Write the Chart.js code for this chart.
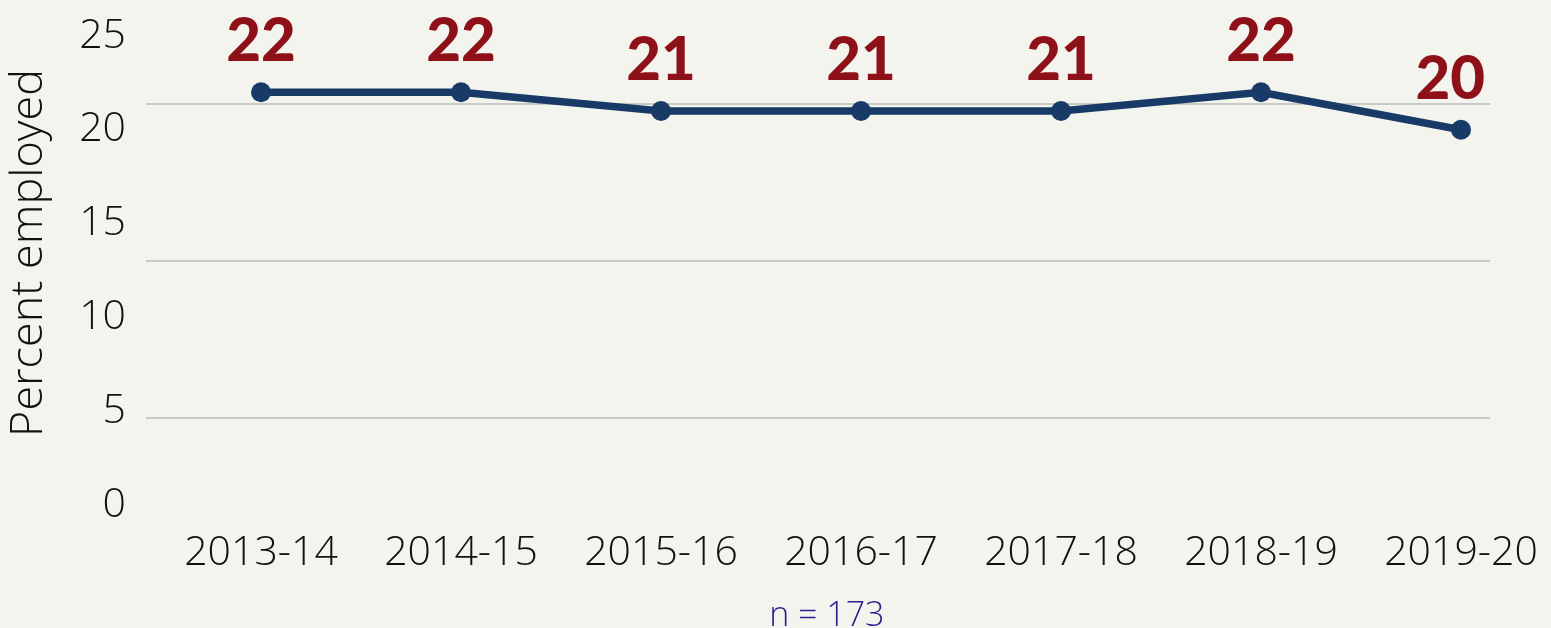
<!DOCTYPE html>
<html>
<head>
<meta charset="utf-8">
<script src="https://cdn.jsdelivr.net/npm/chart.js@4/dist/chart.umd.min.js"></script>
<style>
  html, body { margin: 0; padding: 0; background: #f4f4ef; }
  #wrap { width: 1551px; height: 628px; position: relative; }
</style>
</head>
<body>
<div id="wrap"><canvas id="c"></canvas></div>
<script>
const categories = ['2013-14', '2014-15', '2015-16', '2016-17', '2017-18', '2018-19', '2019-20'];
const values = [22, 22, 21, 21, 21, 22, 20];
const yTicks = [0, 5, 10, 15, 20, 25];
const gridValues = [4.65, 12.98, 21.37];
const yTitle = '   Percent employed';
const footnote = '  n = 173';

const LIGHT = "'Open Sans', sans-serif";

const valueLabels = {
  id: 'valueLabels',
  afterDatasetsDraw(chart) {
    const ctx = chart.ctx;
    const meta = chart.getDatasetMeta(0);
    const area = chart.chartArea;
    ctx.save();
    ctx.font = "900 60px Lato, sans-serif";
    ctx.fillStyle = '#8e1119';
    ctx.textAlign = 'center';
    ctx.textBaseline = 'alphabetic';
    meta.data.forEach((pt, i) => {
      const txt = String(values[i]);
      const half = ctx.measureText(txt).width / 2;
      const x = Math.min(pt.x, area.right - 5 - half);
      ctx.fillText(txt, x, pt.y - 31);
    });
    ctx.restore();
  }
};

new Chart(document.getElementById('c'), {
  type: 'line',
  data: {
    datasets: [{
      data: categories.map((c, i) => ({ x: i, y: values[i] })),
      borderColor: '#173a66',
      backgroundColor: '#173a66',
      borderWidth: 7.5,
      pointRadius: 10,
      pointHoverRadius: 10,
      pointBackgroundColor: '#173a66',
      pointBorderWidth: 0,
      tension: 0
    }]
  },
  options: {
    responsive: true,
    maintainAspectRatio: false,
    animation: false,
    events: [],
    layout: { padding: { top: 36, right: 61, left: 0, bottom: 0 } },
    plugins: { legend: { display: false }, tooltip: { enabled: false } },
    scales: {
      x: {
        type: 'linear',
        min: -0.575,
        max: 6.145,
        grid: { display: false, drawTicks: true, tickLength: 24 },
        border: { display: false },
        afterBuildTicks: (s) => { s.ticks = categories.map((c, i) => ({ value: i })); },
        afterFit: (s) => { s.height = 123; },
        ticks: {
          autoSkip: false,
          maxRotation: 0,
          padding: 0,
          color: '#111111',
          font: { family: LIGHT, size: 41, weight: 300 },
          callback: (v) => categories[v]
        },
        title: {
          display: true,
          text: footnote,
          color: '#2b1e8c',
          font: { family: LIGHT, size: 34, weight: 300, lineHeight: 0.8 },
          padding: { top: 0, bottom: -2 }
        }
      },
      y: {
        position: 'left',
        min: 0,
        max: 25,
        grid: { display: false, drawTicks: true, tickLength: 20 },
        border: { display: false },
        afterBuildTicks: (s) => { s.ticks = yTicks.map(v => ({ value: v })); },
        afterFit: (s) => { s.width = 146; },
        ticks: {
          padding: 0,
          color: '#111111',
          font: { family: LIGHT, size: 41, weight: 300 }
        },
        title: {
          display: true,
          text: yTitle,
          color: '#111111',
          font: { family: LIGHT, size: 45, weight: 300, lineHeight: 1.2 },
          padding: { top: 2, bottom: 0 }
        }
      },
      yGrid: {
        position: 'left',
        min: 0,
        max: 25,
        grid: { display: true, drawTicks: false, color: '#c9c9c5', lineWidth: 2 },
        border: { display: false },
        afterBuildTicks: (s) => { s.ticks = gridValues.map(v => ({ value: v })); },
        afterFit: (s) => { s.width = 0; },
        ticks: { display: false }
      }
    }
  },
  plugins: [valueLabels]
});
</script>
</body>
</html>
